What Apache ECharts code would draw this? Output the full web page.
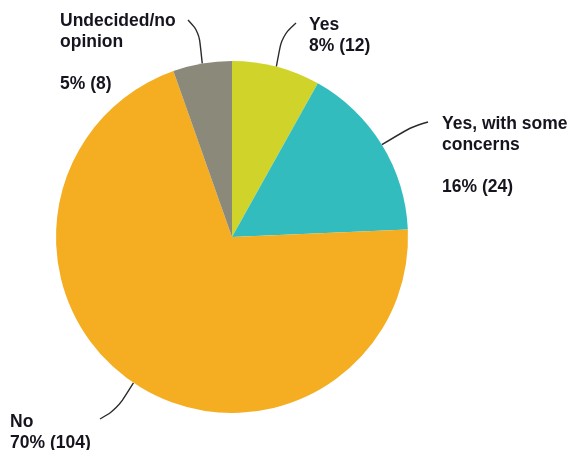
<!DOCTYPE html>
<html>
<head>
<meta charset="utf-8">
<script src="https://cdn.jsdelivr.net/npm/echarts@6/dist/echarts.min.js"></script>
<style>
  html, body { margin: 0; padding: 0; background: #ffffff; }
  #chart { width: 574px; height: 450px; }
</style>
</head>
<body>
<div id="chart"></div>
<script>
// Survey responses (count of respondents)
const categories = ["Yes", "Yes, with some\nconcerns", "No", "Undecided/no\nopinion"];
const counts = [12, 24, 104, 8];
const sliceColors = ["#d0d42a", "#33bcbd", "#f5ad22", "#8b897a"];
// whether a blank line separates the name from the value
const blankGap = [false, true, false, true];

// label placement: top-left corner of each text block, and the
// bend / end points of its leader line
const labelPlacement = [
  { x: 309, y: 15, bend: [282, 36], end: [296, 23] },
  { x: 442, y: 114, bend: [411, 127], end: [428, 122] },
  { x: 10, y: 412, bend: [117, 409], end: [100, 419] },
  { x: 60, y: 11, bend: [199, 32], end: [188, 20] }
];

const chart = echarts.init(document.getElementById('chart'), null, { renderer: 'canvas' });

chart.setOption({
  animation: false,
  backgroundColor: '#ffffff',
  series: [{
    type: 'pie',
    center: [232, 237],
    radius: 176,
    startAngle: 90,
    clockwise: true,
    avoidLabelOverlap: false,
    data: categories.map((name, i) => ({
      name: name,
      value: counts[i],
      itemStyle: { color: sliceColors[i] }
    })),
    label: {
      show: true,
      fontFamily: 'Liberation Sans, Arial, sans-serif',
      fontWeight: 'bold',
      fontSize: 17.5,
      lineHeight: 21,
      color: '#15151f',
      align: 'left',
      formatter: function (p) {
        const pct = Math.round(p.percent) + '% (' + p.value + ')';
        return p.name + (blankGap[p.dataIndex] ? '\n\n' : '\n') + pct;
      }
    },
    labelLine: {
      show: true,
      smooth: 0.35,
      lineStyle: { color: '#2b2b2b', width: 1.4 }
    },
    labelLayout: function (params) {
      const pl = labelPlacement[params.dataIndex];
      const start = params.labelLinePoints ? params.labelLinePoints[0] : pl.bend;
      return {
        x: pl.x,
        y: pl.y,
        align: 'left',
        verticalAlign: 'top',
        labelLinePoints: [start, pl.bend, pl.end]
      };
    }
  }]
});
</script>
</body>
</html>
